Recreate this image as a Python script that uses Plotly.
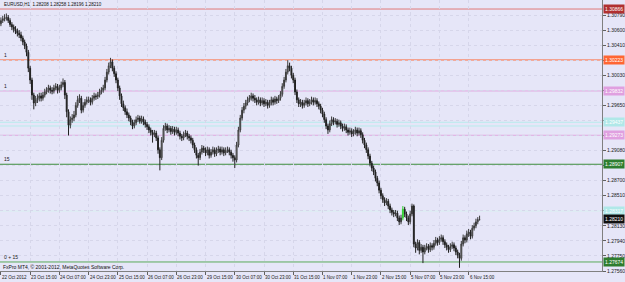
import plotly.graph_objects as go

# ---------------- data (EURUSD H1) ----------------
first_open = 1.3068
closes = [
 1.3072,1.3074,1.3075,1.3076,1.3072,1.3067,1.3064,1.3061,1.3059,1.3056,1.3054,1.3050,1.3045,1.3040,1.3032,1.3012,
 1.2997,1.2978,1.2968,1.2972,1.2974,1.2977,1.2974,1.2978,1.2982,1.2984,1.2987,1.2984,1.2983,1.2987,1.2989,1.2984,
 1.2987,1.2991,1.2994,1.2978,1.2957,1.2940,1.2947,1.2949,1.2953,1.2965,1.2972,1.2974,1.2959,1.2965,1.2969,1.2972,
 1.2972,1.2969,1.2974,1.2977,1.2976,1.2978,1.2982,1.2984,1.2987,1.2997,1.3007,1.3015,1.3020,1.3012,1.3005,1.2997,
 1.2987,1.2977,1.2967,1.2962,1.2957,1.2953,1.2949,1.2944,1.2939,1.2943,1.2947,1.2949,1.2945,1.2948,1.2944,1.2941,
 1.2938,1.2934,1.2931,1.2928,1.2930,1.2924,1.2909,1.2899,1.2921,1.2936,1.2939,1.2934,1.2936,1.2932,1.2935,1.2931,
 1.2934,1.2930,1.2926,1.2924,1.2928,1.2930,1.2926,1.2924,1.2921,1.2915,1.2909,1.2902,1.2899,1.2906,1.2911,1.2909,
 1.2905,1.2909,1.2902,1.2906,1.2909,1.2904,1.2908,1.2910,1.2906,1.2909,1.2905,1.2908,1.2909,1.2906,1.2902,1.2899,
 1.2896,1.2915,1.2934,1.2949,1.2959,1.2964,1.2968,1.2972,1.2974,1.2977,1.2974,1.2972,1.2969,1.2972,1.2968,1.2971,
 1.2967,1.2969,1.2965,1.2968,1.2972,1.2969,1.2973,1.2971,1.2974,1.2979,1.2989,1.2997,1.3007,1.3015,1.3012,1.3003,
 1.2997,1.2982,1.2972,1.2967,1.2969,1.2965,1.2968,1.2971,1.2967,1.2969,1.2972,1.2969,1.2971,1.2967,1.2964,1.2959,
 1.2954,1.2947,1.2939,1.2934,1.2942,1.2947,1.2944,1.2945,1.2941,1.2943,1.2939,1.2936,1.2938,1.2934,1.2931,1.2933,
 1.2929,1.2931,1.2934,1.2930,1.2933,1.2928,1.2921,1.2915,1.2909,1.2901,1.2892,1.2886,1.2881,1.2873,1.2867,1.2858,
 1.2851,1.2846,1.2842,1.2844,1.2838,1.2833,1.2830,1.2828,1.2829,1.2823,1.2818,1.2823,1.2834,1.2828,1.2823,1.2818,
 1.2828,1.2838,1.2790,1.2785,1.2792,1.2782,1.2786,1.2780,1.2785,1.2787,1.2783,1.2788,1.2786,1.2791,1.2795,1.2792,
 1.2796,1.2798,1.2793,1.2789,1.2786,1.2783,1.2787,1.2789,1.2785,1.2780,1.2776,1.2772,1.2790,1.2798,1.2795,1.2803,
 1.2805,1.2800,1.2810,1.2813,1.2818,1.2821,1.28210,
]
highs = [
 1.3076,1.3078,1.3080,1.3081,1.3079,1.3075,1.3070,1.3067,1.3065,1.3062,1.3060,1.3058,1.3053,1.3048,1.3043,1.3035,
 1.3015,1.3000,1.2981,1.2977,1.2979,1.2981,1.2981,1.2982,1.2986,1.2988,1.2991,1.2990,1.2988,1.2991,1.2993,1.2992,
 1.2991,1.2995,1.2999,1.2997,1.2981,1.2960,1.2951,1.2954,1.2958,1.2969,1.2977,1.2979,1.2977,1.2969,1.2973,1.2976,
 1.2976,1.2975,1.2978,1.2981,1.2980,1.2982,1.2986,1.2988,1.2991,1.3001,1.3011,1.3019,1.3025,1.3023,1.3015,1.3008,
 1.3000,1.2990,1.2980,1.2971,1.2965,1.2961,1.2956,1.2952,1.2947,1.2947,1.2951,1.2953,1.2952,1.2952,1.2951,1.2947,
 1.2944,1.2941,1.2937,1.2934,1.2934,1.2933,1.2927,1.2912,1.2925,1.2940,1.2943,1.2942,1.2940,1.2939,1.2939,1.2938,
 1.2938,1.2937,1.2933,1.2929,1.2932,1.2934,1.2933,1.2929,1.2927,1.2924,1.2918,1.2912,1.2905,1.2910,1.2915,1.2914,
 1.2912,1.2913,1.2912,1.2910,1.2913,1.2912,1.2912,1.2914,1.2913,1.2913,1.2912,1.2912,1.2913,1.2912,1.2909,1.2905,
 1.2902,1.2919,1.2938,1.2953,1.2963,1.2968,1.2972,1.2976,1.2978,1.2981,1.2980,1.2978,1.2975,1.2976,1.2975,1.2975,
 1.2974,1.2973,1.2972,1.2972,1.2976,1.2975,1.2977,1.2976,1.2978,1.2983,1.2993,1.3001,1.3011,1.3022,1.3019,1.3015,
 1.3006,1.3000,1.2985,1.2975,1.2973,1.2972,1.2972,1.2975,1.2974,1.2973,1.2976,1.2975,1.2975,1.2974,1.2970,1.2967,
 1.2962,1.2957,1.2950,1.2942,1.2946,1.2951,1.2950,1.2949,1.2948,1.2947,1.2946,1.2942,1.2942,1.2941,1.2937,1.2937,
 1.2936,1.2935,1.2938,1.2937,1.2937,1.2936,1.2931,1.2924,1.2918,1.2912,1.2904,1.2895,1.2889,1.2884,1.2876,1.2870,
 1.2861,1.2854,1.2849,1.2848,1.2847,1.2841,1.2836,1.2833,1.2833,1.2832,1.2826,1.2827,1.2838,1.2837,1.2831,1.2826,
 1.2832,1.2841,1.2840,1.2793,1.2796,1.2795,1.2790,1.2789,1.2789,1.2791,1.2790,1.2792,1.2791,1.2795,1.2799,1.2798,
 1.2800,1.2802,1.2801,1.2796,1.2792,1.2789,1.2791,1.2793,1.2792,1.2788,1.2783,1.2779,1.2794,1.2802,1.2801,1.2807,
 1.2809,1.2808,1.2814,1.2817,1.2822,1.2824,1.28258,
]
lows = [
 1.3065,1.3069,1.3071,1.3072,1.3069,1.3064,1.3060,1.3057,1.3055,1.3052,1.3050,1.3046,1.3041,1.3036,1.3027,1.3007,
 1.2992,1.2972,1.2960,1.2964,1.2968,1.2970,1.2970,1.2971,1.2975,1.2979,1.2981,1.2980,1.2979,1.2980,1.2984,1.2980,
 1.2981,1.2984,1.2988,1.2973,1.2950,1.2927,1.2936,1.2943,1.2945,1.2950,1.2962,1.2968,1.2955,1.2956,1.2962,1.2966,
 1.2968,1.2965,1.2966,1.2971,1.2972,1.2973,1.2975,1.2979,1.2981,1.2984,1.2994,1.3004,1.3012,1.3008,1.3001,1.2993,
 1.2983,1.2972,1.2963,1.2958,1.2953,1.2949,1.2945,1.2940,1.2935,1.2936,1.2940,1.2944,1.2942,1.2942,1.2940,1.2937,
 1.2934,1.2930,1.2927,1.2918,1.2925,1.2920,1.2904,1.2883,1.2896,1.2918,1.2933,1.2930,1.2931,1.2928,1.2929,1.2927,
 1.2928,1.2926,1.2922,1.2920,1.2921,1.2925,1.2922,1.2920,1.2917,1.2911,1.2905,1.2898,1.2889,1.2896,1.2903,1.2905,
 1.2901,1.2902,1.2898,1.2899,1.2903,1.2900,1.2901,1.2905,1.2902,1.2903,1.2901,1.2902,1.2905,1.2902,1.2898,1.2894,
 1.2886,1.2893,1.2912,1.2931,1.2946,1.2955,1.2960,1.2965,1.2969,1.2971,1.2970,1.2968,1.2965,1.2966,1.2964,1.2965,
 1.2963,1.2964,1.2961,1.2962,1.2965,1.2965,1.2966,1.2967,1.2968,1.2971,1.2976,1.2986,1.2994,1.3004,1.3008,1.2999,
 1.2993,1.2978,1.2968,1.2963,1.2963,1.2961,1.2962,1.2965,1.2963,1.2964,1.2966,1.2965,1.2966,1.2963,1.2960,1.2955,
 1.2950,1.2943,1.2935,1.2929,1.2931,1.2939,1.2940,1.2941,1.2937,1.2938,1.2935,1.2932,1.2933,1.2930,1.2927,1.2928,
 1.2925,1.2926,1.2928,1.2926,1.2927,1.2924,1.2917,1.2911,1.2905,1.2897,1.2888,1.2882,1.2877,1.2869,1.2863,1.2854,
 1.2847,1.2842,1.2838,1.2839,1.2834,1.2829,1.2826,1.2824,1.2825,1.2819,1.2814,1.2815,1.2820,1.2824,1.2819,1.2814,
 1.2815,1.2825,1.2786,1.2779,1.2782,1.2777,1.2779,1.2766,1.2777,1.2782,1.2779,1.2780,1.2782,1.2783,1.2788,1.2788,
 1.2789,1.2793,1.2789,1.2785,1.2782,1.2779,1.2780,1.2784,1.2781,1.2776,1.2772,1.2760,1.2769,1.2787,1.2791,1.2792,
 1.2799,1.2796,1.2797,1.2807,1.2810,1.2815,1.28196,
]
last_open = 1.28208
highlight_bar = 220  # bar drawn in lime

time_labels = ["22 Oct 2012", "23 Oct 15:00", "24 Oct 07:00", "24 Oct 23:00", "25 Oct 15:00",
               "26 Oct 07:00", "26 Oct 23:00", "29 Oct 15:00", "30 Oct 07:00", "30 Oct 23:00",
               "31 Oct 15:00", "1 Nov 07:00", "1 Nov 23:00", "2 Nov 15:00", "5 Nov 07:00",
               "5 Nov 23:00", "6 Nov 15:00"]
time_label_bars = [0, 16, 32, 48, 64, 80, 96, 112, 128, 144, 160, 176, 192, 208, 224, 240, 256]

price_ticks = [1.27560, 1.27750, 1.27940, 1.28130, 1.28320, 1.28510, 1.28700, 1.28890, 1.29080,
               1.29270, 1.29460, 1.29650, 1.29840, 1.30030, 1.30220, 1.30410, 1.30600, 1.30790]
# tick labels hidden in the picture by the price boxes of the lines
covered_ticks = [1.28320, 1.28890, 1.29270, 1.29460, 1.29840, 1.30220]

# horizontal lines: price, line colour, label bg, left caption, show price box
hlines = [
    (1.30866, "#E07878", "#B03030", "", True),
    (1.30223, "#FF6633", "#FF6633", "1", True),
    (1.29832, "#E0A8E0", "#E0A0E0", "1", True),
    (1.29437, "#B8ECEC", "#B0E8E8", "", True),
    (1.29390, "#B8ECEC", "#B0E8E8", "", False),
    (1.29273, "#E0A8E0", "#E0A0E0", "", True),
    (1.28907, "#3C8C3C", "#2E7D2E", "15", True),
    (1.28317, "#D8F0F0", "#B0E8E8", "", True),
    (1.27674, "#5AAA5A", "#2E7D2E", "0 + 15", True),
]
bid_price = 1.28210
header = "EURUSD,H1  1.28208 1.28258 1.28196 1.28210"
footer = "FxPro MT4, \u00a9 2001-2012, MetaQuotes Software Corp."

# ---------------- figure ----------------
opens = [first_open] + closes[:-2] + [last_open]
idx = list(range(len(closes)))

bg = "#E6E6F8"
font = "Liberation Sans, DejaVu Sans, sans-serif"
fig = go.Figure()
norm = [i for i in idx if i != highlight_bar]
fig.add_trace(go.Candlestick(
    x=norm, open=[opens[i] for i in norm], high=[highs[i] for i in norm],
    low=[lows[i] for i in norm], close=[closes[i] for i in norm],
    increasing=dict(line=dict(color="#3A3A3A", width=1), fillcolor="#B8B8B8"),
    decreasing=dict(line=dict(color="#202020", width=1), fillcolor="#202020"),
    whiskerwidth=0, showlegend=False, hoverinfo="skip"))
h = highlight_bar
fig.add_trace(go.Candlestick(
    x=[h], open=[opens[h]], high=[highs[h]], low=[lows[h]], close=[closes[h]],
    increasing=dict(line=dict(color="#30D030", width=1), fillcolor="#60F060"),
    decreasing=dict(line=dict(color="#30D030", width=1), fillcolor="#60F060"),
    whiskerwidth=0, showlegend=False, hoverinfo="skip"))

for price, lc, lbg, cap, box in hlines:
    fig.add_shape(type="line", xref="paper", x0=0, x1=1, yref="y", y0=price, y1=price,
                  line=dict(color=lc, width=1), layer="below")
    if box:
        fig.add_annotation(xref="paper", x=1, xanchor="left", yref="y", y=price,
                           text=f"{price:.5f}", showarrow=False, bgcolor=lbg,
                           font=dict(size=5, color="white", family=font), borderpad=1, xshift=1)
    if cap:
        fig.add_annotation(xref="paper", x=0, xanchor="left", yref="y", y=price,
                           yanchor="bottom", text=cap, showarrow=False,
                           font=dict(size=5, color="#202020", family=font), xshift=2)

fig.add_annotation(xref="paper", x=1, xanchor="left", yref="y", y=bid_price,
                   text=f"{bid_price:.5f}", showarrow=False, bgcolor="#101010",
                   font=dict(size=5, color="white", family=font), borderpad=1, xshift=1)

fig.add_annotation(xref="paper", x=0, xanchor="left", yref="paper", y=1, yanchor="top",
                   text=header, showarrow=False, font=dict(size=4.5, color="#101010", family=font),
                   xshift=2, yshift=0)
fig.add_annotation(xref="paper", x=0, xanchor="left", yref="paper", y=0, yanchor="bottom",
                   text=footer, showarrow=False, font=dict(size=5, color="#101010", family=font),
                   xshift=1, yshift=-1)

for b, t in zip(time_label_bars, time_labels):
    fig.add_annotation(xref="x", x=b, xanchor="left", yref="paper", y=0, yanchor="top",
                       text=t, showarrow=False, font=dict(size=4.5, color="#202020", family=font),
                       yshift=-2, xshift=-1)

fig.update_layout(
    width=625, height=282, margin=dict(l=0, r=18, t=0, b=11),
    paper_bgcolor=bg, plot_bgcolor=bg,
    xaxis=dict(range=[-0.5, 329], tickvals=time_label_bars, showticklabels=False,
               rangeslider=dict(visible=False), showgrid=True, gridcolor="#D6D6EA",
               griddash="dot", gridwidth=1, ticks="outside", ticklen=3, tickcolor="#606060",
               showline=True, linecolor="#808080", zeroline=False),
    yaxis=dict(range=[1.27560, 1.30980], side="right", tickvals=price_ticks,
               ticktext=["" if p in covered_ticks else f"{p:.5f}" for p in price_ticks],
               showgrid=True, gridcolor="#D6D6EA",
               griddash="dot", ticks="outside", ticklen=3, tickcolor="#606060",
               tickfont=dict(size=5, color="#202020", family=font), showline=True,
               linecolor="#808080", zeroline=False),
)
fig.write_html("out.html")
